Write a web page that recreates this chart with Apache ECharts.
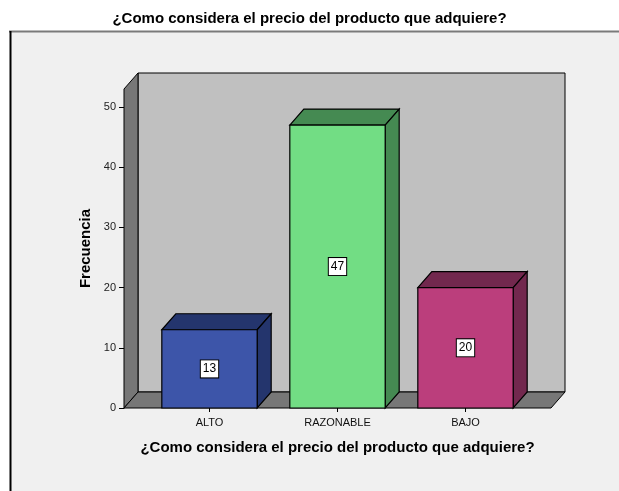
<!DOCTYPE html>
<html>
<head>
<meta charset="utf-8">
<script src="https://cdn.jsdelivr.net/npm/echarts@6/dist/echarts.min.js"></script>
<style>
html,body{margin:0;padding:0;background:#fff;}
#chart{width:619px;height:491px;}
</style>
</head>
<body>
<div id="chart"></div>
<script>
const categories = ['ALTO', 'RAZONABLE', 'BAJO'];
const values = [13, 47, 20];
const yTicks = [0, 10, 20, 30, 40, 50];
const titleText = '¿Como considera el precio del producto que adquiere?';
const yName = 'Frecuencia';

const frontColors = ['#3d55a9', '#72dd84', '#bb3e7c'];
const darkColors = ['#24356d', '#458a52', '#72284e'];
const DX = 14, DY = 16, PAD = 21.5;
const FONT = '"Liberation Sans", Arial, sans-serif';

const chart = echarts.init(document.getElementById('chart'));

const option = {
  backgroundColor: '#ffffff',
  animation: false,
  title: {
    text: titleText,
    left: 'center',
    top: 6,
    textStyle: { fontFamily: FONT, fontSize: 15, fontWeight: 'bold', color: '#000' }
  },
  graphic: [
    { type: 'rect', z: -10, silent: true, shape: { x: 10, y: 31, width: 620, height: 470 }, style: { fill: '#f0f0f0' } },
    { type: 'line', z: -9, silent: true, shape: { x1: 9, y1: 31.5, x2: 619, y2: 31.5 }, style: { stroke: '#7a7a7a', lineWidth: 2 } },
    { type: 'line', z: -9, silent: true, shape: { x1: 10.5, y1: 31, x2: 10.5, y2: 491 }, style: { stroke: '#000', lineWidth: 2 } }
  ],
  grid: { left: 145.5, right: 89.5, top: 89, bottom: 83 },
  xAxis: {
    type: 'category',
    data: categories,
    axisLine: { show: false },
    axisTick: { show: true, alignWithLabel: true, length: 4, lineStyle: { color: '#000' } },
    axisLabel: { fontFamily: FONT, fontSize: 11, color: '#111', margin: 9 },
    name: titleText,
    nameLocation: 'middle',
    nameGap: 32,
    nameTextStyle: { fontFamily: FONT, fontSize: 15, fontWeight: 'bold', color: '#000' }
  },
  yAxis: {
    type: 'value',
    min: 0,
    max: 53,
    interval: 10,
    offset: PAD,
    splitLine: { show: false },
    axisLine: { show: true, lineStyle: { color: '#000' } },
    axisTick: { show: true, length: 5, customValues: yTicks, lineStyle: { color: '#000' } },
    axisLabel: { fontFamily: FONT, fontSize: 11, color: '#222', margin: 8, customValues: yTicks },
    name: yName,
    nameLocation: 'middle',
    nameGap: 28,
    nameTextStyle: { fontFamily: FONT, fontSize: 15, fontWeight: 'bold', color: '#000' }
  },
  series: [
    {
      type: 'custom',
      z: 1,
      silent: true,
      data: [0],
      renderItem: function (params, api) {
        const cs = params.coordSys;
        const x0 = cs.x - PAD, x1 = cs.x + cs.width + PAD;
        const yt = cs.y, yb = cs.y + cs.height;
        const st = { stroke: '#000', lineWidth: 1 };
        return {
          type: 'group',
          children: [
            { type: 'polygon', shape: { points: [[x0 + DX, yt - DY], [x1 + DX, yt - DY], [x1 + DX, yb - DY], [x0 + DX, yb - DY]] }, style: Object.assign({ fill: '#c0c0c0' }, st) },
            { type: 'polygon', shape: { points: [[x0, yb], [x0, yt], [x0 + DX, yt - DY], [x0 + DX, yb - DY]] }, style: Object.assign({ fill: '#777777' }, st) },
            { type: 'polygon', shape: { points: [[x0, yb], [x1, yb], [x1 + DX, yb - DY], [x0 + DX, yb - DY]] }, style: Object.assign({ fill: '#777777' }, st) }
          ]
        };
      }
    },
    {
      type: 'custom',
      z: 3,
      silent: true,
      data: values.map(function (v, i) { return [i, v]; }),
      renderItem: function (params, api) {
        const i = api.value(0);
        const top = api.coord([i, api.value(1)]);
        const base = api.coord([i, 0]);
        const w = api.size([1, 0])[0] * 0.745;
        const xl = top[0] - w / 2, xr = top[0] + w / 2;
        const yt = top[1], yb = base[1];
        const st = { stroke: '#000', lineWidth: 1.2 };
        const idx = params.dataIndex;
        return {
          type: 'group',
          children: [
            { type: 'polygon', shape: { points: [[xl, yt], [xl + DX, yt - DY], [xr + DX, yt - DY], [xr, yt]] }, style: Object.assign({ fill: darkColors[idx] }, st) },
            { type: 'polygon', shape: { points: [[xr, yt], [xr + DX, yt - DY], [xr + DX, yb - DY], [xr, yb]] }, style: Object.assign({ fill: darkColors[idx] }, st) },
            { type: 'rect', shape: { x: xl, y: yt, width: w, height: yb - yt }, style: Object.assign({ fill: frontColors[idx] }, st) },
            { type: 'text', style: {
                text: String(api.value(1)), x: top[0], y: (yt + yb) / 2,
                align: 'center', verticalAlign: 'middle',
                fontFamily: FONT, fontSize: 12, fill: '#000',
                backgroundColor: '#fff', borderColor: '#000', borderWidth: 1,
                padding: [3, 2, 2, 2]
              } }
          ]
        };
      }
    }
  ]
};
chart.setOption(option);
</script>
</body>
</html>
